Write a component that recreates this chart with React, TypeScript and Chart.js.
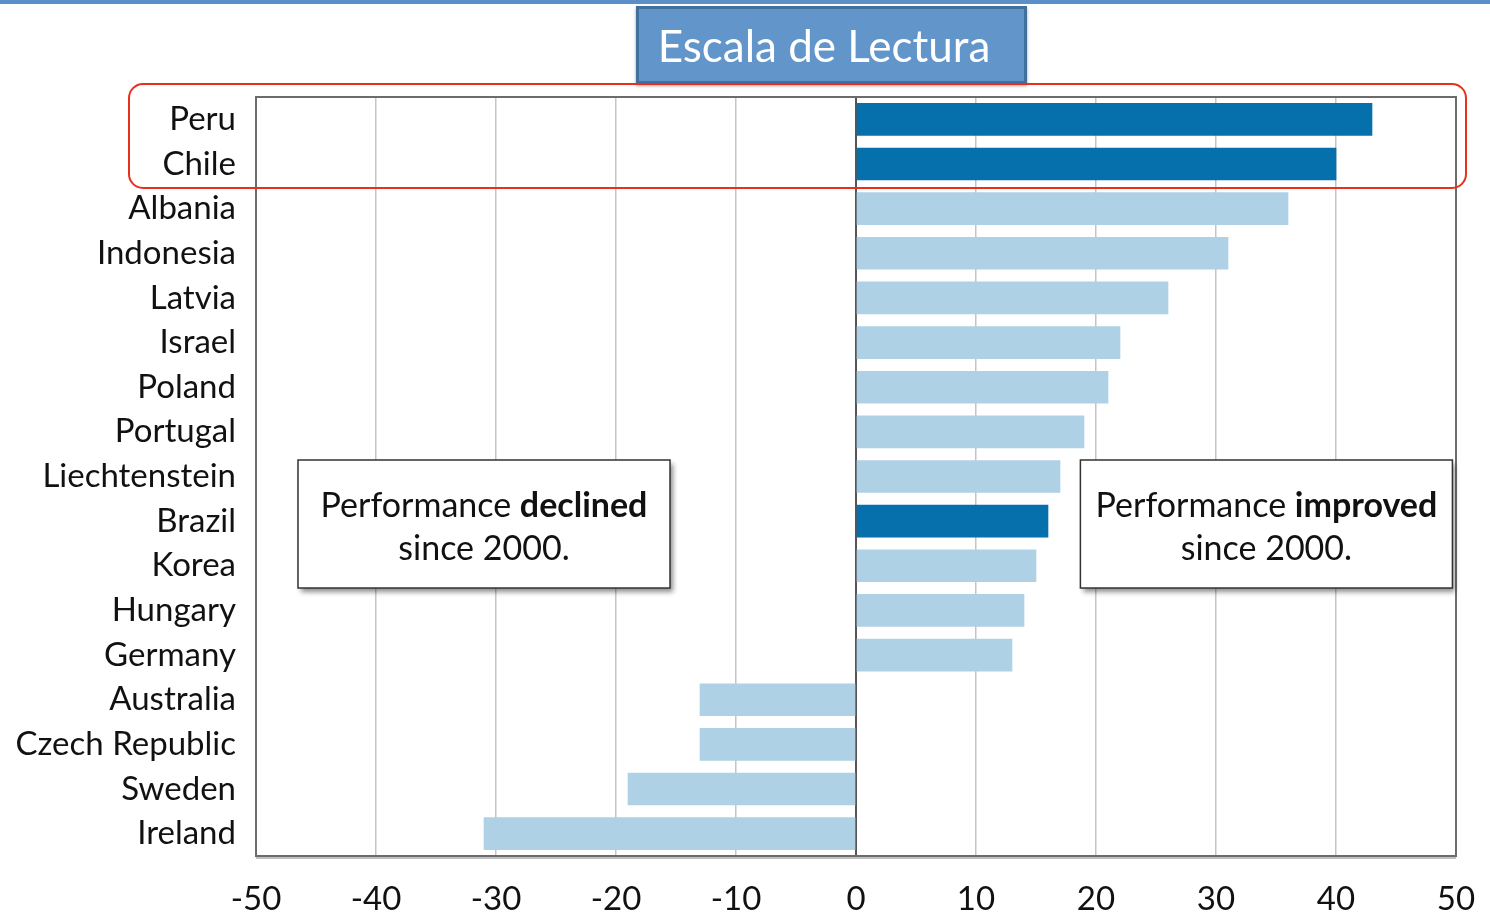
import React, { useEffect, useRef } from "react";
import { Chart, registerables } from "chart.js";

Chart.register(...registerables);

const countries = [
  "Peru", "Chile", "Albania", "Indonesia", "Latvia", "Israel", "Poland", "Portugal",
  "Liechtenstein", "Brazil", "Korea", "Hungary", "Germany", "Australia",
  "Czech Republic", "Sweden", "Ireland",
];
const changes = [43, 40, 36, 31, 26, 22, 21, 19, 17, 16, 15, 14, 13, -13, -13, -19, -31];
const highlighted = ["Peru", "Chile", "Brazil"];
const xTicks = [-50, -40, -30, -20, -10, 0, 10, 20, 30, 40, 50];
const titleText = "Escala de Lectura";
const noteLeft = ["Performance ", "declined", "since 2000."];
const noteRight = ["Performance ", "improved", "since 2000."];

const FONT = "Lato, 'DejaVu Sans', sans-serif";
const DARK = "#0570AC";
const LIGHT = "#AED1E6";

const decorPlugin = {
  id: "decor",
  beforeDraw(chart: any) {
    const ctx = chart.ctx;
    ctx.save();
    ctx.fillStyle = "#fff";
    ctx.fillRect(0, 0, chart.width, chart.height);
    ctx.restore();
  },
  afterDraw(chart: any) {
    const ctx = chart.ctx;
    const a = chart.chartArea;
    ctx.save();
    // plot frame
    ctx.strokeStyle = "#6b6b6b";
    ctx.lineWidth = 2;
    ctx.strokeRect(a.left, a.top, a.right - a.left, a.bottom - a.top);
    ctx.strokeStyle = "rgba(0,0,0,0.25)";
    ctx.lineWidth = 2;
    ctx.beginPath();
    ctx.moveTo(a.left, a.bottom + 2);
    ctx.lineTo(a.right, a.bottom + 2);
    ctx.stroke();

    // top blue line
    ctx.fillStyle = "#5B8FC8";
    ctx.fillRect(0, 0, chart.width, 4);

    // title box
    ctx.save();
    ctx.shadowColor = "rgba(0,0,0,0.35)";
    ctx.shadowOffsetY = 2;
    ctx.shadowBlur = 3;
    ctx.fillStyle = "#6296CB";
    ctx.fillRect(636, 6, 391, 78);
    ctx.restore();
    ctx.strokeStyle = "#42709E";
    ctx.lineWidth = 3;
    ctx.strokeRect(637.5, 7.5, 388, 75);
    ctx.fillStyle = "#fff";
    ctx.font = `44px ${FONT}`;
    ctx.textAlign = "center";
    ctx.textBaseline = "middle";
    ctx.fillText(titleText, 824, 48);

    // red highlight
    ctx.strokeStyle = "#E8301C";
    ctx.lineWidth = 2;
    const rx = 129, ry = 84, rw = 1337, rh = 104, r = 14;
    ctx.beginPath();
    ctx.moveTo(rx + r, ry);
    ctx.lineTo(rx + rw - r, ry);
    ctx.arcTo(rx + rw, ry, rx + rw, ry + r, r);
    ctx.lineTo(rx + rw, ry + rh - r);
    ctx.arcTo(rx + rw, ry + rh, rx + rw - r, ry + rh, r);
    ctx.lineTo(rx + r, ry + rh);
    ctx.arcTo(rx, ry + rh, rx, ry + rh - r, r);
    ctx.lineTo(rx, ry + r);
    ctx.arcTo(rx, ry, rx + r, ry, r);
    ctx.closePath();
    ctx.stroke();

    // annotation boxes
    const xs = chart.scales.x;
    const drawNote = (x0: number, x1: number, lines: string[]) => {
      const y0 = 460, h = 128;
      ctx.save();
      ctx.shadowColor = "rgba(0,0,0,0.45)";
      ctx.shadowOffsetX = 3;
      ctx.shadowOffsetY = 4;
      ctx.shadowBlur = 5;
      ctx.fillStyle = "#fff";
      ctx.fillRect(x0, y0, x1 - x0, h);
      ctx.restore();
      ctx.strokeStyle = "#333";
      ctx.lineWidth = 1.5;
      ctx.strokeRect(x0, y0, x1 - x0, h);
      const cx = (x0 + x1) / 2;
      ctx.fillStyle = "#111";
      ctx.textBaseline = "alphabetic";
      ctx.font = `34px ${FONT}`;
      const w1 = ctx.measureText(lines[0]).width;
      ctx.font = `bold 34px ${FONT}`;
      const w2 = ctx.measureText(lines[1]).width;
      const sx = cx - (w1 + w2) / 2;
      ctx.textAlign = "left";
      ctx.font = `34px ${FONT}`;
      ctx.fillText(lines[0], sx, 517);
      ctx.font = `bold 34px ${FONT}`;
      ctx.fillText(lines[1], sx + w1, 517);
      ctx.font = `34px ${FONT}`;
      ctx.textAlign = "center";
      ctx.fillText(lines[2], cx, 560);
    };
    drawNote(xs.getPixelForValue(-46.5), xs.getPixelForValue(-15.5), noteLeft);
    drawNote(xs.getPixelForValue(18.7), xs.getPixelForValue(49.7), noteRight);
    ctx.restore();
  },
};

export default function App() {
  const ref = useRef<HTMLCanvasElement | null>(null);
  useEffect(() => {
    if (!ref.current) return;
    const chart = new Chart(ref.current, {
      type: "bar",
      data: {
        labels: countries,
        datasets: [
          {
            data: changes,
            backgroundColor: countries.map((c) => (highlighted.includes(c) ? DARK : LIGHT)),
            borderWidth: 0,
            barThickness: 32,
          },
        ],
      },
      options: {
        indexAxis: "y",
        responsive: false,
        animation: false,
        layout: { padding: { top: 97, right: 34, left: 0, bottom: 0 } },
        plugins: { legend: { display: false }, tooltip: { enabled: false }, title: { display: false } },
        scales: {
          x: {
            min: -50,
            max: 50,
            afterBuildTicks: (s: any) => {
              s.ticks = xTicks.map((v) => ({ value: v }));
            },
            afterFit: (s: any) => {
              s.height = 58;
              s.paddingLeft = 0;
              s.paddingRight = 0;
            },
            grid: {
              color: (c: any) => (c.tick && c.tick.value === 0 ? "#555" : "#c4c4c4"),
              lineWidth: (c: any) => (c.tick && c.tick.value === 0 ? 2 : 1.5),
              drawTicks: false,
            },
            border: { display: false },
            ticks: {
              color: "#111",
              font: { family: FONT, size: 33 },
              padding: 24,
              maxRotation: 0,
              autoSkip: false,
            },
          },
          y: {
            afterFit: (s: any) => {
              s.width = 256;
              s.paddingTop = 0;
              s.paddingBottom = 0;
            },
            grid: { display: false, drawTicks: false },
            border: { display: false },
            ticks: {
              color: "#111",
              font: { family: FONT, size: 33 },
              padding: 20,
              autoSkip: false,
            },
          },
        },
      },
      plugins: [decorPlugin],
    } as any);
    return () => chart.destroy();
  }, []);
  return (
    <div style={{ position: "absolute", left: 0, top: 0, width: 1490, height: 914 }}>
      <canvas ref={ref} width={1490} height={914} />
    </div>
  );
}
